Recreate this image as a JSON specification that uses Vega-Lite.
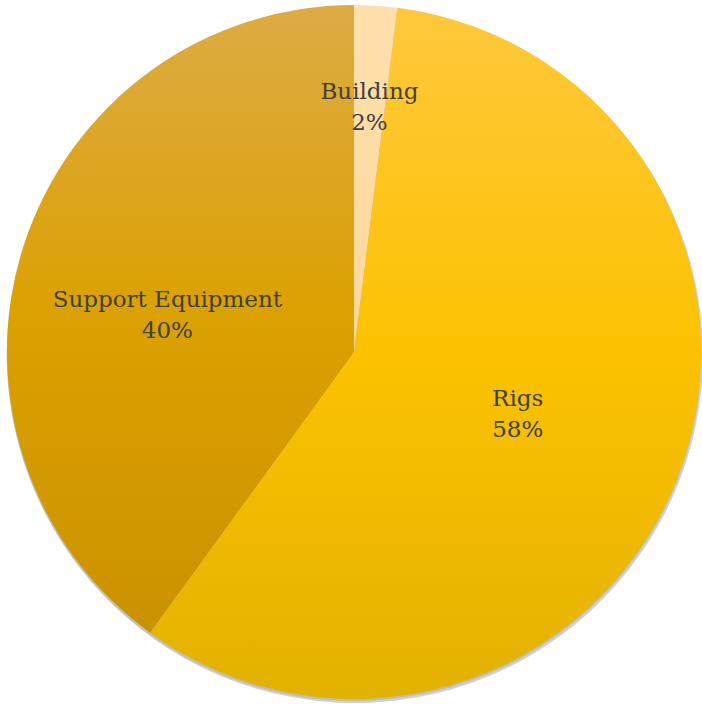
{
  "$schema": "https://vega.github.io/schema/vega-lite/v6.json",
  "autosize": {"type": "fit", "contains": "padding"},
  "width": 702,
  "height": 704,
  "padding": {"left": 6, "right": 0, "top": 0, "bottom": 0},
  "background": "white",
  "view": {"stroke": null},
  "data": {"values": [
    {"category": "Building", "value": 2, "order": 1, "label": "Building\n2%"},
    {"category": "Rigs", "value": 58, "order": 2, "label": "Rigs\n58%"},
    {"category": "Support Equipment", "value": 40, "order": 3, "label": "Support Equipment\n40%"}
  ]},
  "transform": [
    {"stack": "value", "groupby": [], "sort": [{"field": "order", "order": "ascending"}], "as": ["v0", "v1"]},
    {"calculate": "(datum.v0 + datum.v1) / 2", "as": "mid"}
  ],
  "encoding": {
    "theta": {"field": "v0", "type": "quantitative", "scale": {"domain": [0, 100]}},
    "theta2": {"field": "v1"}
  },
  "layer": [
    {
      "mark": {"type": "arc", "radius": 348, "fill": "#7a7a7a", "opacity": 0.35, "yOffset": 3, "xOffset": 1}
    },
    {
      "mark": {"type": "arc", "radius": 347.5, "fill": "#9a9a9a", "opacity": 0.35, "yOffset": 1.5}
    },
    {
      "transform": [{"filter": "datum.category === 'Building'"}],
      "mark": {"type": "arc", "radius": 347, "color": {"gradient": "linear", "x1": 0, "y1": 0, "x2": 0, "y2": 1, "stops": [{"offset": 0, "color": "#FEDFAC"}, {"offset": 1, "color": "#FDD89C"}]}}
    },
    {
      "transform": [{"filter": "datum.category === 'Rigs'"}],
      "mark": {"type": "arc", "radius": 347, "color": {"gradient": "linear", "x1": 0, "y1": 0, "x2": 0, "y2": 1, "stops": [{"offset": 0, "color": "#FFC83C"}, {"offset": 0.5, "color": "#FCC200"}, {"offset": 1, "color": "#E2B200"}]}}
    },
    {
      "transform": [{"filter": "datum.category === 'Support Equipment'"}],
      "mark": {"type": "arc", "radius": 347, "color": {"gradient": "linear", "x1": 0, "y1": 0, "x2": 0, "y2": 1, "stops": [{"offset": 0, "color": "#DDAB45"}, {"offset": 0.5, "color": "#DBA100"}, {"offset": 1, "color": "#CB9200"}]}}
    },
    {
      "transform": [{"filter": "datum.category === 'Building'"}],
      "mark": {"type": "text", "radius": 246, "dy": -14, "font": "DejaVu Serif", "fontSize": 23, "color": "#404040", "lineBreak": "\n", "lineHeight": 31, "align": "center", "baseline": "middle"},
      "encoding": {"theta": {"field": "mid", "type": "quantitative"}, "theta2": null, "text": {"field": "label"}}
    },
    {
      "transform": [{"filter": "datum.category === 'Rigs'"}],
      "mark": {"type": "text", "radius": 175, "dx": 1, "dy": -17, "font": "DejaVu Serif", "fontSize": 23, "color": "#404040", "lineBreak": "\n", "lineHeight": 31, "align": "center", "baseline": "middle"},
      "encoding": {"theta": {"field": "mid", "type": "quantitative"}, "theta2": null, "text": {"field": "label"}}
    },
    {
      "transform": [{"filter": "datum.category === 'Support Equipment'"}],
      "mark": {"type": "text", "radius": 191, "dx": -5, "dy": 7, "font": "DejaVu Serif", "fontSize": 23, "color": "#404040", "lineBreak": "\n", "lineHeight": 31, "align": "center", "baseline": "middle"},
      "encoding": {"theta": {"field": "mid", "type": "quantitative"}, "theta2": null, "text": {"field": "label"}}
    }
  ]
}
